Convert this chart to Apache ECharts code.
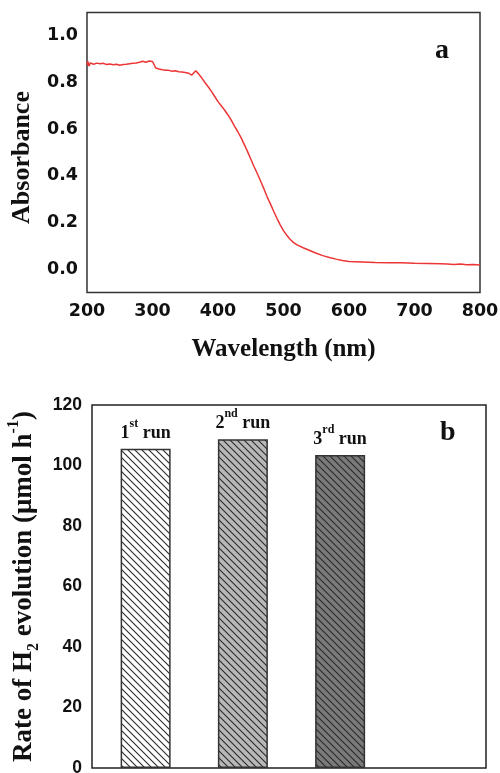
<!DOCTYPE html>
<html>
<head>
<meta charset="utf-8">
<script src="https://cdn.jsdelivr.net/npm/echarts@6/dist/echarts.min.js"></script>
<style>
html,body{margin:0;padding:0;background:#fff;}
#chart{width:500px;height:773px;}
</style>
</head>
<body>
<div id="chart"></div>
<script>
// Panel a: UV-vis absorbance
const wavelength = [200,201,203,205,210,215,220,225,230,235,240,245,250,255,260,265,270,275,280,285,290,295,300,303,305,310,315,320,325,330,335,340,345,350,355,360,363,366,368,370,375,380,385,390,395,400,405,410,415,420,425,430,435,440,445,450,455,460,465,470,475,480,485,490,495,500,505,510,515,520,530,540,550,560,570,580,590,600,620,640,660,680,700,720,740,750,760,770,780,790,800];
const absorbance = [0.875,0.892,0.870,0.884,0.878,0.883,0.880,0.882,0.877,0.879,0.876,0.878,0.874,0.877,0.878,0.880,0.882,0.884,0.887,0.891,0.887,0.892,0.890,0.892,0.862,0.858,0.855,0.853,0.852,0.848,0.850,0.846,0.845,0.843,0.840,0.832,0.829,0.850,0.847,0.838,0.820,0.800,0.782,0.762,0.740,0.718,0.700,0.682,0.662,0.640,0.614,0.590,0.565,0.535,0.505,0.472,0.440,0.410,0.378,0.345,0.310,0.280,0.248,0.218,0.190,0.165,0.145,0.128,0.115,0.105,0.092,0.080,0.068,0.058,0.050,0.043,0.037,0.033,0.031,0.029,0.028,0.027,0.025,0.024,0.023,0.022,0.020,0.022,0.019,0.020,0.018];

// Panel b: H2 evolution runs
const runs = ['1st run','2nd run','3rd run'];
const runNumbers = ['1','2','3'];
const runSuffixes = ['st','nd','rd'];
const rates = [105.5, 108.7, 103.5];
const barFills = ['#ffffff','#b8b8b8','#7a7a7a'];

function hatch(bg){
  const c = document.createElement('canvas');
  const s = 7;
  c.width = s; c.height = s;
  const g = c.getContext('2d');
  g.fillStyle = bg; g.fillRect(0,0,s,s);
  g.strokeStyle = '#2a2a2a'; g.lineWidth = 1.1;
  g.beginPath();
  g.moveTo(-1,-1); g.lineTo(s+1,s+1);
  g.moveTo(-1,s-1); g.lineTo(1,s+1);
  g.moveTo(s-1,-1); g.lineTo(s+1,1);
  g.stroke();
  return {image:c, repeat:'repeat'};
}

const serif = 'Liberation Serif';
const chart = echarts.init(document.getElementById('chart'), null, {renderer:'canvas'});

const option = {
  backgroundColor:'#fff',
  animation:false,
  grid:[
    {left:87, right:20, top:12.5, bottom:480.5, show:true, borderColor:'#333', borderWidth:1.5, backgroundColor:'transparent', outerBoundsMode:'none', containLabel:false},
    {left:97, right:14, top:405, bottom:5, show:false, outerBoundsMode:'none', containLabel:false},
    {left:92, right:14, top:405, bottom:5, show:true, borderColor:'#222', borderWidth:1.5, backgroundColor:'transparent', outerBoundsMode:'none', containLabel:false}
  ],
  xAxis:[
    {type:'value', gridIndex:0, min:200, max:800, interval:100,
     axisLine:{show:false}, axisTick:{show:false}, splitLine:{show:false},
     axisLabel:{margin:10, fontFamily:'DejaVu Sans', fontWeight:'bold', fontSize:17.5, color:'#111'},
     name:'Wavelength (nm)', nameLocation:'middle', nameGap:45,
     nameTextStyle:{fontFamily:serif, fontWeight:'bold', fontSize:25, color:'#111'}},
    {type:'category', gridIndex:1, data:runs.concat(['']),
     axisLine:{show:false}, axisTick:{show:false}, axisLabel:{show:false}, splitLine:{show:false}},
    {type:'value', gridIndex:2, show:false, min:0, max:1}
  ],
  yAxis:[
    {type:'value', gridIndex:0, min:-0.1, max:1.1, interval:0.1,
     axisLine:{show:false}, axisTick:{show:false}, splitLine:{show:false},
     axisLabel:{margin:9, fontFamily:'DejaVu Sans', fontWeight:'bold', fontSize:17.5, color:'#111',
       formatter:function(v){const k=Math.round(v*10); return (k>=0 && k<=10 && k%2===0)? (k/10).toFixed(1) : '';}},
     name:'Absorbance', nameLocation:'middle', nameGap:52, nameRotate:90,
     nameTextStyle:{fontFamily:serif, fontWeight:'bold', fontSize:26, color:'#111', padding:[0,10,0,0]}},
    {type:'value', gridIndex:1, min:0, max:120, interval:20,
     axisLine:{show:false}, axisTick:{show:false}, splitLine:{show:false},
     axisLabel:{margin:15, fontFamily:'Liberation Sans', fontWeight:'bold', fontSize:17.5, color:'#111'},
     name:'{n|Rate of H}{sub|2}{n| evolution (μmol h}{sup|-1}{n|)}', nameLocation:'middle', nameGap:49, nameRotate:90,
     nameTextStyle:{fontFamily:serif, fontWeight:'bold', fontSize:27, color:'#111',
       rich:{
         n:{fontFamily:serif, fontWeight:'bold', fontSize:27, lineHeight:36, color:'#111'},
         sub:{fontFamily:serif, fontWeight:'bold', fontSize:16, verticalAlign:'bottom', lineHeight:36, color:'#111'},
         sup:{fontFamily:serif, fontWeight:'bold', fontSize:16, verticalAlign:'top', lineHeight:36, color:'#111'}
       }}},
    {type:'value', gridIndex:2, show:false, min:0, max:1}
  ],
  series:[
    {type:'line', xAxisIndex:0, yAxisIndex:0, showSymbol:false, symbol:'none',
     lineStyle:{color:'#ee3535', width:1.5},
     data: wavelength.map((w,i)=>[w, absorbance[i]])},
    {type:'bar', xAxisIndex:1, yAxisIndex:1, barWidth:50,
     data: rates.map((r,i)=>({value:r, itemStyle:{color:hatch(barFills[i]), borderColor:'#333', borderWidth:1.5},
       label:{show:true, position:'top', distance:1,
         formatter:'{n|'+runNumbers[i]+'}{s|'+runSuffixes[i]+'}{n| run}'}})),
     label:{rich:{
       n:{fontFamily:serif, fontWeight:'bold', fontSize:18, lineHeight:30, color:'#111'},
       s:{fontFamily:serif, fontWeight:'bold', fontSize:12, verticalAlign:'top', lineHeight:30, color:'#111'}
     }}}
  ],
  graphic:[
    {type:'text', left:435, top:37, style:{text:'a', font:'bold 28px "Liberation Serif"', fill:'#111'}},
    {type:'text', left:440, top:419, style:{text:'b', font:'bold 28px "Liberation Serif"', fill:'#111'}}
  ]
};
chart.setOption(option);
</script>
</body>
</html>
